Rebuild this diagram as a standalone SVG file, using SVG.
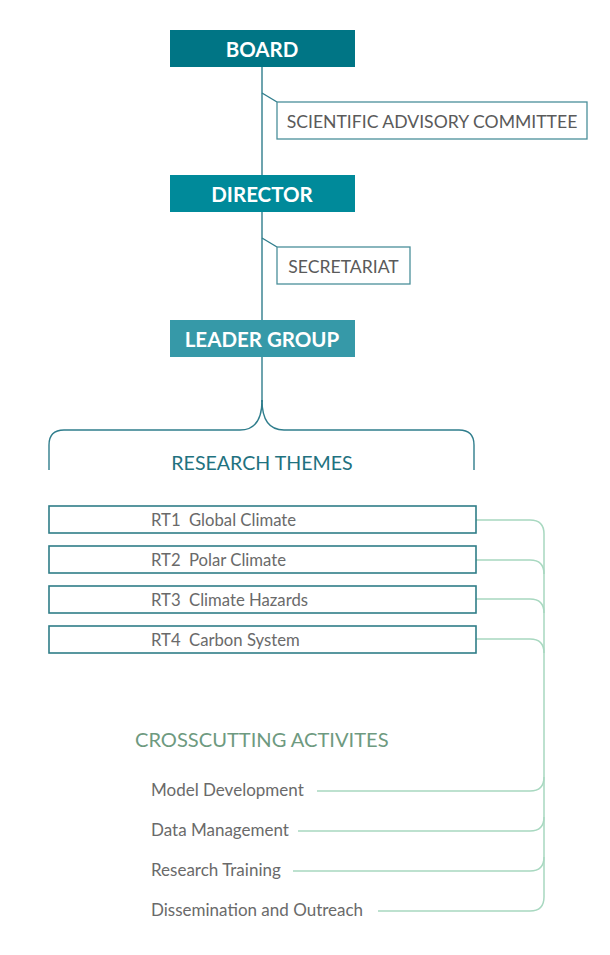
<svg xmlns="http://www.w3.org/2000/svg" width="610" height="955" viewBox="0 0 610 955">
<style>
.hd{font-family:Lato,"Open Sans","Liberation Sans",sans-serif;font-weight:bold;font-size:20.5px;fill:#fff;text-anchor:middle}
.lbl{font-family:Lato,"Open Sans","Liberation Sans",sans-serif;font-size:17.6px;fill:#5a5a5a}
.rt{font-family:Lato,"Open Sans","Liberation Sans",sans-serif;font-size:16.7px;fill:#6a6a6a}
.ca{font-family:Lato,"Open Sans","Liberation Sans",sans-serif;font-size:17px;fill:#6a6a6a}
.box{fill:#fff;stroke:#4a8f9a;stroke-width:1.3}
.rtbox{fill:#fff;stroke:#2f7d88;stroke-width:1.6}
.tl{fill:none;stroke:#2f7d8c;stroke-width:1.4}
.gl{fill:none;stroke:#a8d8c0;stroke-width:1.5}
</style>
<rect width="610" height="955" fill="#fff"/>
<g id="connectors">
<path class="tl" d="M262,67 V402"/>
<path class="tl" d="M262,93 L277,102"/>
<path class="tl" d="M262,238 L277,247"/>
<path class="tl" d="M262,400 Q262,430 240,430 H64 Q49,430 49,445 V470"/>
<path class="tl" d="M262,400 Q262,430 284,430 H459 Q474,430 474,445 V470"/>
<path class="gl" d="M476,520 H530 Q544,520 544,534 V897 Q544,911 530,911 H378"/>
<path class="gl" d="M476,560 H530 Q544,560 544,574"/>
<path class="gl" d="M476,599 H530 Q544,599 544,613"/>
<path class="gl" d="M476,639 H530 Q544,639 544,653"/>
<path class="gl" d="M317,791 H530 Q544,791 544,777"/>
<path class="gl" d="M298,831 H530 Q544,831 544,817"/>
<path class="gl" d="M293,871 H530 Q544,871 544,857"/>
</g>
<g id="board">
<rect x="170" y="30" width="185" height="37" fill="#007585"/>
<text class="hd" x="262" y="56.5">BOARD</text>
</g>
<g id="sac">
<rect class="box" x="277" y="102" width="310" height="37"/>
<text class="lbl" x="432" y="128" text-anchor="middle">SCIENTIFIC ADVISORY COMMITTEE</text>
</g>
<g id="director">
<rect x="170" y="175" width="185" height="37" fill="#008a9a"/>
<text class="hd" x="262" y="201.5">DIRECTOR</text>
</g>
<g id="secretariat">
<rect class="box" x="277" y="247" width="133" height="37"/>
<text class="lbl" x="343.5" y="273" text-anchor="middle">SECRETARIAT</text>
</g>
<g id="leader">
<rect x="170" y="320" width="185" height="37" fill="#3699a8"/>
<text class="hd" x="262" y="346.5">LEADER GROUP</text>
</g>
<g id="research-themes">
<text x="262" y="470" text-anchor="middle" style="font-family:Lato,'Open Sans','Liberation Sans',sans-serif;font-size:19.6px;fill:#1f7280">RESEARCH THEMES</text>
</g>
<g id="rt1">
<rect class="rtbox" x="49" y="506" width="427" height="27"/>
<text class="rt" y="525.5"><tspan x="151">RT1</tspan><tspan x="189">Global Climate</tspan></text>
</g>
<g id="rt2">
<rect class="rtbox" x="49" y="546" width="427" height="27"/>
<text class="rt" y="565.5"><tspan x="151">RT2</tspan><tspan x="189">Polar Climate</tspan></text>
</g>
<g id="rt3">
<rect class="rtbox" x="49" y="586" width="427" height="27"/>
<text class="rt" y="605.5"><tspan x="151">RT3</tspan><tspan x="189">Climate Hazards</tspan></text>
</g>
<g id="rt4">
<rect class="rtbox" x="49" y="626" width="427" height="27"/>
<text class="rt" y="645.5"><tspan x="151">RT4</tspan><tspan x="189">Carbon System</tspan></text>
</g>
<g id="crosscutting">
<text x="135" y="747" style="font-family:Lato,'Open Sans','Liberation Sans',sans-serif;font-size:20.1px;fill:#6e9a80">CROSSCUTTING ACTIVITES</text>
</g>
<g id="model-dev"><text class="ca" x="151" y="796">Model Development</text></g>
<g id="data-mgmt"><text class="ca" x="151" y="836">Data Management</text></g>
<g id="research-training"><text class="ca" x="151" y="876">Research Training</text></g>
<g id="dissemination"><text class="ca" x="151" y="916">Dissemination and Outreach</text></g>
</svg>
